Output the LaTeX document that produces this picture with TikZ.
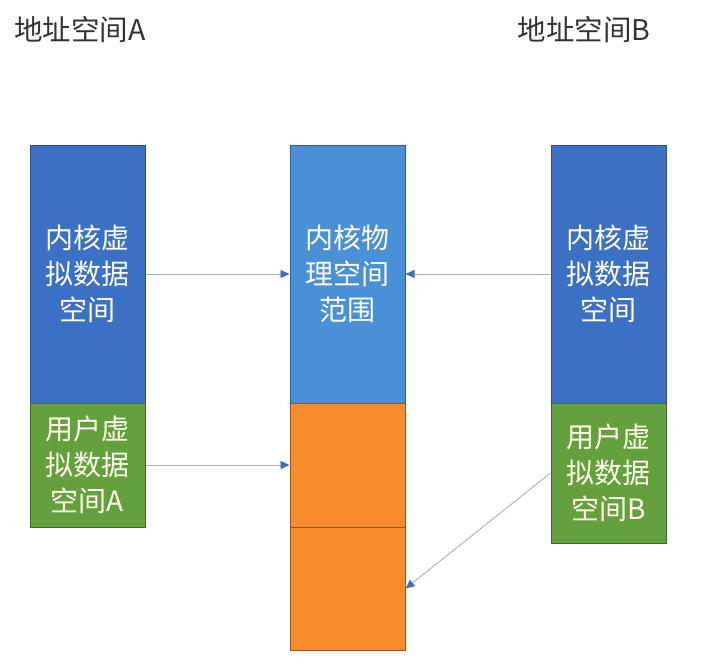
\documentclass[tikz,border=0pt]{standalone}
\usepackage{xcolor}
\usepackage{fontspec}
\setmainfont{Noto Sans CJK SC}
\usetikzlibrary{arrows.meta}

\definecolor{kvblue}{HTML}{3C70C4}
\definecolor{kvedge}{HTML}{2A4F8C}
\definecolor{kpblue}{HTML}{4A90D6}
\definecolor{kpedge}{HTML}{2F5E95}
\definecolor{uvgreen}{HTML}{64A03E}
\definecolor{uvedge}{HTML}{3F6A26}
\definecolor{porange}{HTML}{F88C2C}
\definecolor{poedge}{HTML}{A2521A}
\definecolor{linkgray}{HTML}{A3B2C8}
\definecolor{tipblue}{HTML}{3D6FC0}

\begin{document}
\begin{tikzpicture} [x=1pt, y=-1pt,
    block/.style={draw, line width=1pt, minimum width=115pt, inner sep=0pt,
        text=white!92!yellow, align=center, font=\fontsize{28}{36}\selectfont},
    kvblock/.style={block, fill=kvblue, draw=kvedge},
    kpblock/.style={block, fill=kpblue, draw=kpedge},
    uvblock/.style={block, fill=uvgreen, draw=uvedge},
    poblock/.style={block, fill=porange, draw=poedge},
    title/.style={text=black!80, font=\fontsize{28.5}{32}\selectfont},
    link/.style={draw=linkgray, line width=0.9pt,
        -{Triangle[length=9pt, width=8pt, color=tipblue]}} ]
    \useasboundingbox (0,0) rectangle (701,670);

    % address space titles
    \node [title] (titleA) at (80,30) {地址空间A};
    \node [title] (titleB) at (584,30) {地址空间B};

    % space A
    \node [kvblock, minimum height=258pt] (kvA) at (87.5,274) {内核虚\\拟数据\\空间};
    \node [uvblock, minimum height=124pt] (uvA) at (87.5,465) {用户虚\\拟数据\\空间A};

    % physical memory
    \node [kpblock, minimum height=258pt] (kphys) at (347.5,274) {内核物\\理空间\\范围};
    \node [poblock, minimum height=124pt] (pupper) at (347.5,465) {};
    \node [poblock, minimum height=123pt] (plower) at (347.5,588.5) {};

    % space B
    \node [kvblock, minimum height=258pt] (kvB) at (608.5,274) {内核虚\\拟数据\\空间};
    \node [uvblock, minimum height=140pt] (uvB) at (608.5,473) {用户虚\\拟数据\\空间B};

    % mappings
    \draw [link] (kvA.east) -- (kphys.west);
    \draw [link] (kvB.west) -- (kphys.east);
    \draw [link] (uvA.east) -- (pupper.west);
    \draw [link] (uvB.west) -- (plower.east);
\end{tikzpicture}
\end{document}
